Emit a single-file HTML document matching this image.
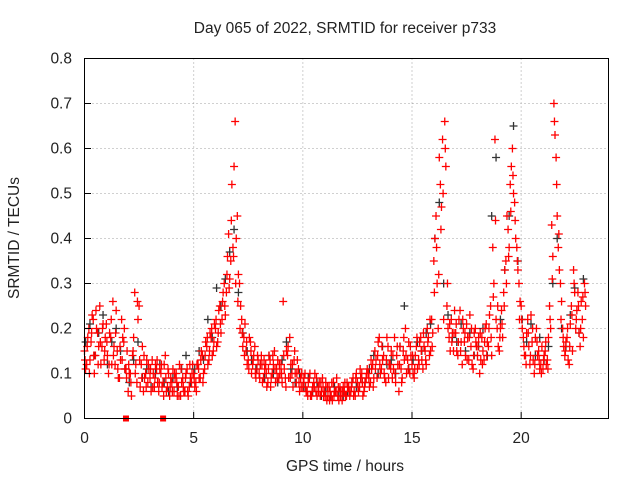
<!DOCTYPE html>
<html><head><meta charset="utf-8"><style>
body{margin:0;background:#fff}
svg text{font-family:"Liberation Sans",sans-serif;font-size:15.5px;fill:#222}
</style></head><body>
<svg id="chart" width="640" height="480" xmlns="http://www.w3.org/2000/svg">
<rect width="640" height="480" fill="#fff"/>
<g id="grid"></g>
<g id="marks"></g>
<rect x="84.5" y="58.5" width="524" height="360" fill="none" stroke="#000" stroke-width="1"/>
<g id="ticks"></g>
<text x="345" y="33" text-anchor="middle">Day 065 of 2022, SRMTID for receiver p733</text>
<text x="345" y="471" text-anchor="middle">GPS time / hours</text>
<text x="19" y="238" text-anchor="middle" transform="rotate(-90 19 238)">SRMTID / TECUs</text>
</svg>
<script>
const xTicks = [0,5,10,15,20];
const yTicks = [0,0.1,0.2,0.3,0.4,0.5,0.6,0.7,0.8];
const yTickLabels = ["0","0.1","0.2","0.3","0.4","0.5","0.6","0.7","0.8"];
const redStep = 0.1;
const blackStep = 0.2;
const redA = [.15,.12,.20,.17,.22,.14,.19,.25,.16,.13,
.21,.10,.18,.26,.12,.15,.09,.22,.17,.11,
.06,.10,.14,.28,.08,.25,.12,.06,.10,.08,
.09,.13,.07,.11,.06,.10,.08,.14,.07,.05,
.08,.06,.10,.07,.05,.09,.06,.11,.07,.08,
.10,.08,.12,.09,.14,.11,.16,.13,.18,.15,
.20,.17,.25,.22,.30,.28,.41,.35,.38,.66,
.45,.30,.22,.18,.15,.13,.17,.12,.16,.11,
.10,.14,.09,.12,.08,.13,.10,.15,.11,.09,
.12,.26,.09,.14,.18,.10,.13,.08,.11,.09,
.07,.10,.06,.09,.05,.08,.06,.07,.05,.09,
.06,.04,.07,.05,.08,.06,.05,.07,.04,.06,
.05,.07,.06,.09,.05,.08,.07,.10,.06,.09,
.10,.08,.12,.15,.09,.18,.11,.14,.08,.16,
.12,.09,.18,.14,.06,.11,.15,.20,.13,.10,
.12,.09,.16,.13,.18,.11,.15,.20,.14,.22,
.35,.45,.20,.52,.62,.66,.25,.18,.22,.15,
.19,.14,.24,.12,.17,.21,.13,.16,.11,.20,
.14,.10,.18,.13,.21,.16,.25,.38,.62,.20,
.15,.24,.28,.35,.42,.52,.60,.48,.38,.30,
.25,.18,.14,.22,.12,.17,.10,.20,.15,.12,
.11,.15,.13,.25,.43,.70,.58,.38,.30,.20,
.14,.18,.12,.25,.33,.20,.28,.16,.22,.30];
const redB = [.11,.18,.13,.23,.10,.20,.16,.12,.21,.18,
.14,.19,.12,.16,.24,.09,.13,.18,.11,.15,
.10,.05,.18,.12,.22,.07,.16,.09,.13,.11,
.06,.10,.12,.08,.11,.07,.12,.06,.10,.09,
.11,.09,.05,.12,.08,.06,.10,.05,.09,.12,
.07,.12,.09,.15,.10,.17,.12,.19,.14,.21,
.16,.24,.19,.28,.23,.36,.31,.52,.56,.40,
.32,.25,.16,.21,.12,.18,.10,.14,.09,.13,
.12,.08,.11,.07,.14,.09,.12,.08,.13,.10,
.08,.11,.15,.09,.12,.07,.10,.13,.06,.10,
.09,.06,.08,.05,.07,.10,.05,.08,.06,.05,
.08,.05,.06,.04,.06,.09,.04,.06,.07,.05,
.07,.05,.08,.06,.10,.06,.09,.05,.08,.11,
.07,.11,.09,.13,.17,.10,.13,.09,.18,.12,
.15,.11,.08,.12,.16,.09,.13,.10,.17,.14,
.10,.14,.11,.17,.13,.16,.12,.18,.15,.19,
.40,.30,.58,.47,.22,.56,.20,.15,.19,.24,
.15,.22,.17,.20,.14,.18,.23,.12,.19,.16,
.18,.13,.15,.20,.17,.23,.14,.30,.22,.16,
.20,.18,.33,.45,.38,.56,.50,.40,.33,.26,
.20,.14,.19,.16,.23,.13,.18,.14,.11,.16,
.14,.12,.18,.20,.36,.63,.45,.33,.26,.16,
.17,.13,.21,.15,.28,.24,.19,.26,.18,.25];
const redC = [.13,.16,.10,.19,.14,.24,.12,.17,.20,.15,
.17,.12,.22,.14,.19,.11,.16,.13,.20,.09,
.12,.08,.15,.10,.26,.13,.09,.14,.07,.12,
.11,.07,.09,.13,.08,.12,.05,.09,.11,.07,
.06,.10,.08,.05,.11,.07,.09,.06,.12,.10,
.09,.06,.11,.13,.08,.14,.18,.15,.20,.17,
.22,.19,.21,.26,.25,.32,.29,.44,.36,.30,
.26,.20,.19,.14,.17,.11,.15,.13,.10,.14,
.09,.12,.13,.10,.11,.07,.14,.11,.09,.12,
.10,.14,.07,.16,.09,.12,.15,.10,.08,.07,
.08,.07,.05,.10,.06,.07,.09,.06,.08,.07,
.05,.07,.04,.08,.05,.06,.07,.05,.06,.08,
.08,.06,.07,.05,.09,.07,.11,.08,.07,.10,
.09,.13,.07,.11,.14,.12,.16,.10,.13,.09,
.11,.14,.10,.16,.12,.08,.18,.14,.11,.16,
.14,.11,.18,.12,.15,.19,.13,.17,.22,.16,
.28,.38,.32,.42,.50,.60,.30,.21,.17,.19,
.21,.17,.15,.22,.19,.13,.18,.20,.14,.17,
.16,.19,.12,.17,.14,.20,.18,.27,.44,.25,
.18,.21,.25,.30,.36,.46,.54,.44,.35,.22,
.22,.16,.12,.19,.14,.20,.12,.17,.13,.10,
.13,.17,.11,.22,.31,.66,.52,.41,.22,.18,
.15,.20,.16,.23,.30,.22,.25,.20,.27,.28];
const black = [.17,.21,.14,.19,.23,.12,.17,.20,.15,.11,
.08,.13,.17,.09,.11,.07,.10,.12,.08,.06,
.09,.07,.11,.14,.08,.11,.15,.13,.22,.18,
.29,.25,.31,.37,.42,.28,.19,.15,.13,.11,
.12,.09,.14,.10,.08,.13,.17,.11,.08,.10,
.07,.09,.06,.08,.05,.06,.05,.07,.06,.05,
.06,.08,.07,.09,.08,.11,.14,.10,.16,.12,
.13,.10,.16,.25,.11,.13,.17,.15,.19,.21,
.40,.48,.30,.23,.18,.17,.21,.15,.19,.14,
.16,.20,.14,.45,.58,.22,.33,.45,.65,.35,
.22,.17,.21,.14,.18,.13,.16,.30,.40,.20,
.16,.23,.29,.19,.31];
const squareHours = [1.9,3.6];
const squareVals = [0,0];

const NS="http://www.w3.org/2000/svg";
const x = h => 84.5 + h*(524/24);
const y = v => 418.5 - v*450;
const grid=document.getElementById('grid'), marks=document.getElementById('marks'), ticks=document.getElementById('ticks');
function mk(tag,attrs,parent){const e=document.createElementNS(NS,tag);for(const k in attrs)e.setAttribute(k,attrs[k]);parent.appendChild(e);return e;}
xTicks.forEach(t=>{
  if(t>0){const g=mk('line',{x1:x(t),x2:x(t),y1:58.5,y2:418.5,stroke:'#a0a0a0','stroke-dasharray':'1,3'},grid);
  
  }
  const l=mk('line',{x1:x(t),x2:x(t),y1:418.5,y2:412,stroke:'#000'},ticks);
  
  
  const tx=mk('text',{x:x(t),y:443,'text-anchor':'middle'},ticks);tx.textContent=t;
  
  
});
yTicks.forEach((t,i)=>{
  if(i>0&&i<yTicks.length-1){const g=mk('line',{x1:84.5,x2:608.5,y1:y(t),y2:y(t),stroke:'#a0a0a0','stroke-dasharray':'1,3'},grid);
  
  }
  const l=mk('line',{x1:84.5,x2:91,y1:y(t),y2:y(t),stroke:'#000'},ticks);
  
  
  const tx=mk('text',{x:72,y:y(t)+5,'text-anchor':'end'},ticks);tx.textContent=yTickLabels[i];
  
  
});
function plus(h,v,color,name){
  const cx=x(h),cy=y(v);
  const p=mk('path',{d:`M${cx-4},${cy}H${cx+4}M${cx},${cy-4}V${cy+4}`,stroke:color,'stroke-width':1.3,fill:'none'},marks);
  
  
}
black.forEach((v,i)=>plus(i*blackStep+0.05,v,'#333','black-point'));
redA.forEach((v,i)=>plus(i*redStep,v,'#f00','red-point'));
redB.forEach((v,i)=>plus(i*redStep+0.05,v,'#f00','red-point'));
redC.forEach((v,i)=>plus(i*redStep+0.025,v,'#f00','red-point'));
squareHours.forEach((h,i)=>{
  const r=mk('rect',{x:x(h)-3,y:y(squareVals[i])-3,width:6,height:6,fill:'#f00'},marks);
  
  
});
</script>
</body></html>
